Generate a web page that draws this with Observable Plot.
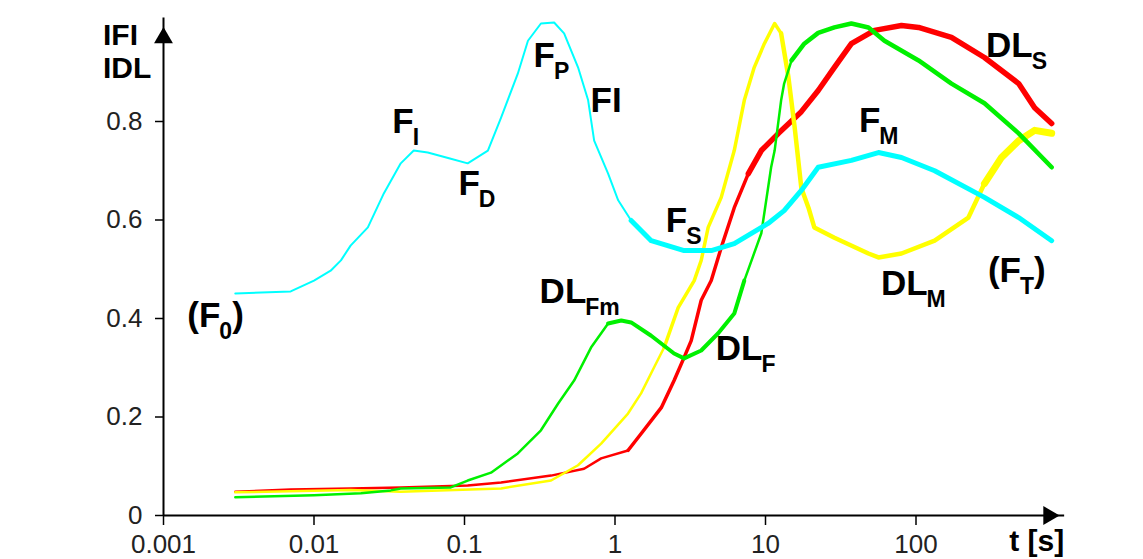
<!DOCTYPE html>
<html><head><meta charset="utf-8">
<script src="https://cdn.jsdelivr.net/npm/d3@7"></script>
<script src="https://cdn.jsdelivr.net/npm/@observablehq/plot@0.6"></script>
<style>html,body{margin:0;padding:0;background:#fff;} #chart{width:1143px;height:559px;overflow:hidden;}</style>
</head><body><div id="chart"></div>
<script>
// ---- data (time in s, relative signal) ----
const fiTime  = [0.003,0.007,0.010,0.0129,0.0151,0.0175,0.0228,0.0291,0.0377,0.046,0.057,0.08,0.105,0.143,0.175,0.226,0.264,0.322,0.394,0.459,0.568,0.663,0.727,0.90,1.05,1.28,1.74,2.88,4.36,6.2,10.4,13.3,17.3,22.4,37.2,56.3,80.1,133,285,481,797];
const fiValue = [0.451,0.455,0.477,0.497,0.518,0.548,0.585,0.654,0.715,0.741,0.737,0.725,0.715,0.741,0.808,0.897,0.964,0.999,1.001,0.979,0.910,0.843,0.761,0.694,0.640,0.599,0.558,0.538,0.538,0.552,0.593,0.619,0.660,0.707,0.721,0.737,0.727,0.700,0.646,0.605,0.558];

const yellowTime  = [0.003,0.0175,0.0377,0.175,0.376,0.568,0.809,1.22,1.49,1.82,2.12,2.63,3.36,3.74,4.16,5.08,6.20,7.23,8.42,9.82,11.5,12.7,14.2,15.6,17.3,19.3,21.1,28.7,48.3,56.3,80.1,133,223,285,370,481,614,797];
const yellowValue = [0.047,0.052,0.048,0.055,0.071,0.102,0.146,0.207,0.248,0.301,0.341,0.422,0.477,0.518,0.585,0.646,0.741,0.843,0.910,0.958,0.999,0.979,0.890,0.790,0.665,0.625,0.585,0.564,0.532,0.524,0.532,0.558,0.605,0.674,0.727,0.761,0.782,0.776];

const redTime  = [0.003,0.007,0.0175,0.0377,0.105,0.175,0.376,0.623,0.809,1.22,1.49,2.03,2.47,2.88,3.21,3.74,4.36,5.08,6.20,7.69,9.38,12.2,17.3,22.4,28.7,37.2,53.0,80.1,104,172,285,481,614,797];
const redValue = [0.048,0.053,0.055,0.057,0.061,0.067,0.081,0.095,0.116,0.132,0.166,0.219,0.274,0.321,0.355,0.437,0.477,0.544,0.625,0.694,0.741,0.776,0.820,0.863,0.910,0.958,0.985,0.995,0.991,0.971,0.930,0.877,0.828,0.796];

const greenTime  = [0.003,0.010,0.0205,0.0324,0.0377,0.081,0.105,0.150,0.226,0.322,0.418,0.535,0.693,0.900,1.10,1.28,1.74,2.47,2.88,3.74,4.85,6.20,7.23,9.38,10.9,11.5,12.7,13.3,14.9,18.1,22.4,28.7,37.2,48.3,61.7,104,172,285,481,797];
const greenValue = [0.037,0.041,0.045,0.051,0.055,0.057,0.071,0.087,0.126,0.173,0.227,0.274,0.341,0.390,0.396,0.392,0.365,0.329,0.319,0.335,0.370,0.410,0.477,0.573,0.707,0.741,0.843,0.877,0.924,0.958,0.980,0.991,0.999,0.991,0.964,0.924,0.877,0.837,0.776,0.707];

const xTicks = [0.001,0.01,0.1,1,10,100];
const xTickLabels = ["0.001","0.01","0.1","1","10","100"];
const yTicks = [0,0.2,0.4,0.6,0.8];
const yTickLabels = ["0","0.2","0.4","0.6","0.8"];

// curve annotations: anchor (time, value) of the label baseline start
const labelTime  = [0.00145,0.0334,0.0918,0.290,0.693,2.19,42.1,294,58.9,303,0.318,4.71];
const labelValue = [0.382,0.776,0.650,0.910,0.818,0.575,0.778,0.930,0.447,0.473,0.430,0.315];
const labelMain  = ["(F","F","F","F","FI","F","F","DL","DL","(F","DL","DL"];
const labelSub   = ["0","I","D","P","","S","M","S","M","T","Fm","F"];
const labelAfter = [")","","","","","","","","",")","",""];

// ---- build ----
const toRows = (T, V) => T.map((t, i) => ({t, v: V[i]}));
const fi = toRows(fiTime, fiValue);
const yellow = toRows(yellowTime, yellowValue);
const red = toRows(redTime, redValue);
const green = toRows(greenTime, greenValue);

const CYAN = "#00ffff", YELLOW = "#ffff00", RED = "#ff0000", GREEN = "#00f000";
function seg(rows, lo, hi, color, w) {
  return Plot.line(rows.filter(d => d.t >= lo && d.t <= hi),
    {x: "t", y: "v", stroke: color, strokeWidth: w, strokeLinejoin: "round", strokeLinecap: "round"});
}
const font = "'Liberation Sans', Arial, sans-serif";
const xEnd = 972, xArrow = 762, yEnd = 1.01, yArrow = 0.97;

const plot = Plot.plot({
  width: 1143, height: 559,
  marginLeft: 163, marginRight: 77, marginTop: 22.5, marginBottom: 44,
  style: {fontFamily: font, background: "#fff", overflow: "visible"},
  x: {type: "log", domain: [0.001, 1000]},
  y: {domain: [0, 1]},
  marks: [
    // red
    seg(red, 0, 1.3, RED, 2.5), seg(red, 1.22, 7.7, RED, 3.5), seg(red, 7.69, 1000, RED, 5.5),
    // yellow
    seg(yellow, 0, 2.2, YELLOW, 2.5), seg(yellow, 2.12, 12.8, YELLOW, 3.5), seg(yellow, 12.7, 300, YELLOW, 4.5), seg(yellow, 285, 1000, YELLOW, 7),
    // green
    seg(green, 0, 0.95, GREEN, 2.5), seg(green, 0.9, 7.3, GREEN, 4), seg(green, 7.23, 15, GREEN, 2.5), seg(green, 14.9, 1000, GREEN, 4.5),
    // cyan
    seg(fi, 0, 1.3, CYAN, 2), seg(fi, 1.28, 1000, CYAN, 5),
    // axes
    Plot.ruleY([0], {x1: 0.001, x2: xEnd, stroke: "#000", strokeWidth: 2}),
    Plot.ruleX([0.001], {y1: 0, y2: yEnd, stroke: "#000", strokeWidth: 2}),
    Plot.dot([{x: 0.001, y: yArrow}], {x: "x", y: "y", symbol: "triangle", r: 7, fill: "#000", stroke: null}),
    Plot.dot([{x: xArrow, y: 0}], {x: "x", y: "y", symbol: "triangle", r: 7, fill: "#000", stroke: null, rotate: 90}),
    Plot.axisX(xTicks, {anchor: "bottom", tickSize: 10, tickPadding: 9, fontSize: 26, stroke: "#000", strokeWidth: 1.5,
      fill: "#222", tickFormat: d => xTickLabels[xTicks.indexOf(d)], label: null}),
    Plot.axisY(yTicks, {anchor: "left", tickSize: 8, tickPadding: 13, fontSize: 26, stroke: "#000", strokeWidth: 1.5,
      fill: "#222", tickFormat: d => yTickLabels[yTicks.indexOf(d)], label: null})
  ]
});

// ---- annotations with subscripts ----
const sx = plot.scale("x"), sy = plot.scale("y");
const svg = d3.select(plot);
const g = svg.append("g").attr("font-family", font).attr("font-weight", "bold").attr("fill", "#000").attr("text-anchor", "start");
labelMain.forEach((m, i) => {
  const t = g.append("text").attr("x", sx.apply(labelTime[i])).attr("y", sy.apply(labelValue[i])).attr("font-size", 35);
  t.append("tspan").text(m);
  if (labelSub[i]) t.append("tspan").attr("font-size", 23).attr("dy", 12).attr("dx", -1).text(labelSub[i]);
  if (labelAfter[i]) t.append("tspan").attr("font-size", 35).attr("dy", -12).text(labelAfter[i]);
});
// axis titles
const x0 = sx.apply(0.001), yBase = sy.apply(0);
g.append("text").attr("x", x0 - 60).attr("y", 45).attr("font-size", 30).text("IFI");
g.append("text").attr("x", x0 - 60).attr("y", 78).attr("font-size", 30).text("IDL");
g.append("text").attr("x", sx.apply(xEnd) - 55).attr("y", yBase + 36).attr("font-size", 30).text("t [s]");

document.getElementById("chart").appendChild(plot);
</script>
</body></html>
